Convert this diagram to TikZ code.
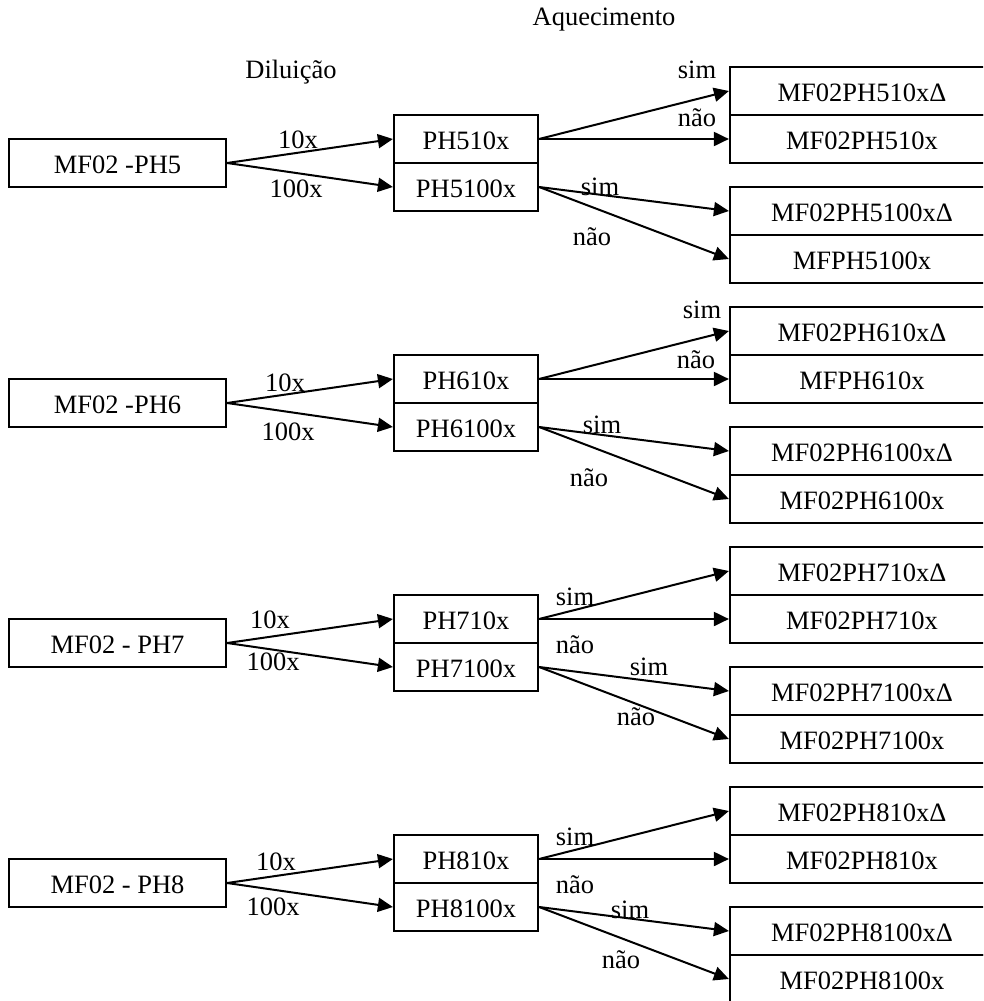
\documentclass[tikz,border=0pt]{standalone}
\usepackage{fontspec}
\setmainfont{Liberation Serif}
\usetikzlibrary{arrows.meta}
\begin{document}
\begin{tikzpicture}[x=1pt,y=-1pt,
  every node/.style={font=\fontsize{26.5}{30}\selectfont},
  box/.style={draw, line width=2.2pt, rectangle, inner sep=0pt, minimum height=48pt,
              text height=21pt, text depth=0pt},
  src/.style={box, minimum width=217pt},
  mid/.style={box, minimum width=144pt},
  res/.style={box, minimum width=264pt},
  lbl/.style={inner sep=0pt},
  arr/.style={line width=2pt, -{Triangle[length=15pt,width=14pt]}}]
\useasboundingbox (0,0) rectangle (983,1001);
\clip (0,0) rectangle (983,1001);

% column headings
\node[lbl] (hdil) at (291,72) {Diluição};
\node[lbl] (haq) at (604,20) {Aquecimento};

% ---------- pH 5 ----------
\node[src] (S5) at (117.5,163) {MF02 -PH5};
\node[mid] (A5) at (466,139) {PH510x};
\node[mid] (B5) at (466,187) {PH5100x};
\node[res] (R5a) at (862,91)  {MF02PH510xΔ};
\node[res] (R5b) at (862,139) {MF02PH510x};
\node[res] (R5c) at (862,211) {MF02PH5100xΔ};
\node[res] (R5d) at (862,259) {MFPH5100x};
\draw[arr] (S5.east) -- (A5.west);
\draw[arr] (S5.east) -- (B5.west);
\draw[arr] (A5.east) -- (R5a.west);
\draw[arr] (A5.east) -- (R5b.west);
\draw[arr] (B5.east) -- (R5c.west);
\draw[arr] (B5.east) -- (R5d.west);
\node[lbl] (d5a) at (298,140) {10x};
\node[lbl] (d5b) at (296,189) {100x};
\node[lbl] (h5a) at (697,70) {sim};
\node[lbl] (h5b) at (697,118) {não};
\node[lbl] (h5c) at (600,187) {sim};
\node[lbl] (h5d) at (592,237) {não};

% ---------- pH 6 ----------
\node[src] (S6) at (117.5,403) {MF02 -PH6};
\node[mid] (A6) at (466,379) {PH610x};
\node[mid] (B6) at (466,427) {PH6100x};
\node[res] (R6a) at (862,331) {MF02PH610xΔ};
\node[res] (R6b) at (862,379) {MFPH610x};
\node[res] (R6c) at (862,451) {MF02PH6100xΔ};
\node[res] (R6d) at (862,499) {MF02PH6100x};
\draw[arr] (S6.east) -- (A6.west);
\draw[arr] (S6.east) -- (B6.west);
\draw[arr] (A6.east) -- (R6a.west);
\draw[arr] (A6.east) -- (R6b.west);
\draw[arr] (B6.east) -- (R6c.west);
\draw[arr] (B6.east) -- (R6d.west);
\node[lbl] (d6a) at (285,383) {10x};
\node[lbl] (d6b) at (288,432) {100x};
\node[lbl] (h6a) at (702,310) {sim};
\node[lbl] (h6b) at (696,360) {não};
\node[lbl] (h6c) at (602,425) {sim};
\node[lbl] (h6d) at (589,478) {não};

% ---------- pH 7 ----------
\node[src] (S7) at (117.5,643) {MF02 - PH7};
\node[mid] (A7) at (466,619) {PH710x};
\node[mid] (B7) at (466,667) {PH7100x};
\node[res] (R7a) at (862,571) {MF02PH710xΔ};
\node[res] (R7b) at (862,619) {MF02PH710x};
\node[res] (R7c) at (862,691) {MF02PH7100xΔ};
\node[res] (R7d) at (862,739) {MF02PH7100x};
\draw[arr] (S7.east) -- (A7.west);
\draw[arr] (S7.east) -- (B7.west);
\draw[arr] (A7.east) -- (R7a.west);
\draw[arr] (A7.east) -- (R7b.west);
\draw[arr] (B7.east) -- (R7c.west);
\draw[arr] (B7.east) -- (R7d.west);
\node[lbl] (d7a) at (270,620) {10x};
\node[lbl] (d7b) at (273,662) {100x};
\node[lbl] (h7a) at (575,597) {sim};
\node[lbl] (h7b) at (575,645) {não};
\node[lbl] (h7c) at (649,667) {sim};
\node[lbl] (h7d) at (636,717) {não};

% ---------- pH 8 ----------
\node[src] (S8) at (117.5,883) {MF02 - PH8};
\node[mid] (A8) at (466,859) {PH810x};
\node[mid] (B8) at (466,907) {PH8100x};
\node[res] (R8a) at (862,811) {MF02PH810xΔ};
\node[res] (R8b) at (862,859) {MF02PH810x};
\node[res] (R8c) at (862,931) {MF02PH8100xΔ};
\node[res] (R8d) at (862,979) {MF02PH8100x};
\draw[arr] (S8.east) -- (A8.west);
\draw[arr] (S8.east) -- (B8.west);
\draw[arr] (A8.east) -- (R8a.west);
\draw[arr] (A8.east) -- (R8b.west);
\draw[arr] (B8.east) -- (R8c.west);
\draw[arr] (B8.east) -- (R8d.west);
\node[lbl] (d8a) at (276,862) {10x};
\node[lbl] (d8b) at (273,907) {100x};
\node[lbl] (h8a) at (575,837) {sim};
\node[lbl] (h8b) at (575,885) {não};
\node[lbl] (h8c) at (630,910) {sim};
\node[lbl] (h8d) at (621,960) {não};
\end{tikzpicture}
\end{document}
